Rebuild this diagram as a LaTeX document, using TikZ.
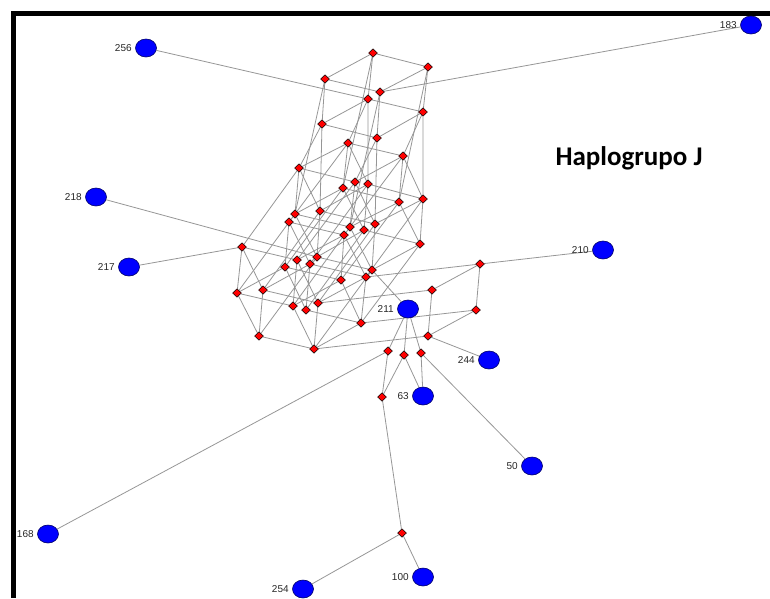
\documentclass[tikz,border=0pt]{standalone}
\usepackage{fontspec}
\setmainfont{Liberation Sans}
\newfontfamily\titlefont{Carlito}
\usepackage{tikz}
\usetikzlibrary{shapes.geometric}
\usetikzlibrary{backgrounds}
\definecolor{medred} {RGB} {255, 0, 0}
\definecolor{hapblue} {RGB} {0, 0, 255}
\definecolor{linkgray} {RGB} {150, 150, 150}
\tikzstyle{hapnet}=[
  x=1pt, y=-1pt, font=\fontsize{10}{11}\selectfont
]
\tikzstyle{mednode}=[
  diamond, draw=black, line width=0.5pt, fill=medred,
  inner sep=0pt, minimum width=9pt, minimum height=8.5pt
]
\tikzstyle{hapnode}=[
  ellipse, draw=black!60!blue, line width=0.6pt, fill=hapblue,
  inner sep=0pt, minimum width=21pt, minimum height=18pt
]
\tikzstyle{haplabel}=[
  text=black!85, label distance=0pt
]
\tikzstyle{hapedge}=[
  draw=linkgray, line width=0.8pt
]

\begin{document}
\begin{tikzpicture}[hapnet]
    \useasboundingbox (0,0) rectangle (770,598);
    % frame
    \fill [black] (11,11) rectangle (770,16);
    \fill [black] (11,11) rectangle (16,598);

    \node (title) at (629,158) {\titlefont\bfseries\fontsize{27}{30}\selectfont Haplogrupo J};

    % median vectors
    \node (m1) [mednode] at (373,53) {};
    \node (m2) [mednode] at (428,67) {};
    \node (m3) [mednode] at (325,79) {};
    \node (m4) [mednode] at (380,92) {};
    \node (m5) [mednode] at (368,99) {};
    \node (m6) [mednode] at (423,112) {};
    \node (m7) [mednode] at (322,124) {};
    \node (m8) [mednode] at (377,138) {};
    \node (m9) [mednode] at (348,143) {};
    \node (m10) [mednode] at (403,156) {};
    \node (m11) [mednode] at (299,168) {};
    \node (m12) [mednode] at (355,182) {};
    \node (m13) [mednode] at (368,184) {};
    \node (m14) [mednode] at (343,188) {};
    \node (m15) [mednode] at (399,202) {};
    \node (m16) [mednode] at (423,199) {};
    \node (m17) [mednode] at (295,214) {};
    \node (m18) [mednode] at (320,211) {};
    \node (m19) [mednode] at (289,222) {};
    \node (m20) [mednode] at (350,227) {};
    \node (m21) [mednode] at (375,224) {};
    \node (m22) [mednode] at (364,230) {};
    \node (m23) [mednode] at (344,235) {};
    \node (m24) [mednode] at (420,244) {};
    \node (m25) [mednode] at (242,247) {};
    \node (m26) [mednode] at (317,257) {};
    \node (m27) [mednode] at (297,260) {};
    \node (m28) [mednode] at (310,264) {};
    \node (m29) [mednode] at (285,267) {};
    \node (m30) [mednode] at (372,270) {};
    \node (m31) [mednode] at (341,280) {};
    \node (m32) [mednode] at (366,277) {};
    \node (m33) [mednode] at (432,290) {};
    \node (m34) [mednode] at (263,290) {};
    \node (m35) [mednode] at (237,293) {};
    \node (m36) [mednode] at (480,264) {};
    \node (m37) [mednode] at (293,306) {};
    \node (m38) [mednode] at (306,310) {};
    \node (m39) [mednode] at (318,303) {};
    \node (m40) [mednode] at (476,310) {};
    \node (m41) [mednode] at (361,323) {};
    \node (m42) [mednode] at (259,336) {};
    \node (m43) [mednode] at (428,336) {};
    \node (m44) [mednode] at (314,349) {};
    \node (m45) [mednode] at (388,351) {};
    \node (m46) [mednode] at (404,355) {};
    \node (m47) [mednode] at (421,353) {};
    \node (m48) [mednode] at (382,397) {};
    \node (m49) [mednode] at (402,533) {};

    % sampled haplotypes
    \node (h256) [hapnode, label={[haplabel]left:256}] at (146,48) {};
    \node (h183) [hapnode, label={[haplabel]left:183}] at (751,25) {};
    \node (h218) [hapnode, label={[haplabel]left:218}] at (96,197) {};
    \node (h217) [hapnode, label={[haplabel]left:217}] at (129,267) {};
    \node (h210) [hapnode, label={[haplabel]left:210}] at (603,250) {};
    \node (h211) [hapnode, label={[haplabel]left:211}] at (408,309) {};
    \node (h244) [hapnode, label={[haplabel]left:244}] at (489,360) {};
    \node (h63) [hapnode, label={[haplabel]left:63}] at (423,396) {};
    \node (h50) [hapnode, label={[haplabel]left:50}] at (532,466) {};
    \node (h168) [hapnode, label={[haplabel]left:168}] at (48,534) {};
    \node (h254) [hapnode, label={[haplabel]left:254}] at (303,589) {};
    \node (h100) [hapnode, label={[haplabel]left:100}] at (423,577) {};

    \begin{scope}[on background layer]
        % parallel links, one group per direction
        \draw [hapedge] (m1) -- (m2) (m3) -- (m4) (m5) -- (m6) (m7) -- (m8)
            (m9) -- (m10) (m11) -- (m12) (m13) -- (m16) (m14) -- (m15)
            (m17) -- (m20) (m18) -- (m21) (m19) -- (m23) (m22) -- (m24)
            (m25) -- (m27) (m26) -- (m30) (m28) -- (m32) (m29) -- (m31)
            (m34) -- (m39) (m35) -- (m37) (m38) -- (m41) (m42) -- (m44);
        \draw [hapedge] (m1) -- (m3) (m2) -- (m4) (m5) -- (m7) (m6) -- (m8)
            (m9) -- (m11) (m10) -- (m12) (m13) -- (m18) (m14) -- (m17)
            (m15) -- (m20) (m16) -- (m21) (m22) -- (m26) (m23) -- (m27)
            (m24) -- (m30) (m28) -- (m34) (m29) -- (m35) (m31) -- (m37)
            (m32) -- (m39) (m36) -- (m33) (m40) -- (m43) (m41) -- (m44);
        \draw [hapedge] (m1) -- (m5) (m2) -- (m6) (m3) -- (m7) (m4) -- (m8)
            (m9) -- (m14) (m10) -- (m15) (m11) -- (m17) (m12) -- (m20)
            (m13) -- (m22) (m16) -- (m24) (m18) -- (m26) (m19) -- (m29)
            (m21) -- (m30) (m23) -- (m31) (m25) -- (m35) (m27) -- (m37)
            (m28) -- (m38) (m32) -- (m41) (m34) -- (m42) (m39) -- (m44)
            (m33) -- (m43) (m36) -- (m40);
        \draw [hapedge] (m9) -- (m13) (m10) -- (m16) (m11) -- (m18) (m12) -- (m21)
            (m14) -- (m22) (m15) -- (m24) (m17) -- (m26) (m19) -- (m28)
            (m20) -- (m30) (m23) -- (m32) (m25) -- (m34) (m27) -- (m39)
            (m29) -- (m38) (m31) -- (m41) (m35) -- (m42) (m37) -- (m44);
        \draw [hapedge] (m41) -- (m24) (m37) -- (m20) (m35) -- (m17) (m42) -- (m26)
            (m44) -- (m30) (m34) -- (m18) (m39) -- (m21) (m38) -- (m22)
            (m29) -- (m14) (m27) -- (m12) (m25) -- (m11) (m28) -- (m13)
            (m31) -- (m15) (m32) -- (m16) (m23) -- (m10) (m19) -- (m9);
        \draw [hapedge] (m5) -- (m9) (m6) -- (m10) (m7) -- (m11) (m8) -- (m12);
        \draw [hapedge] (m5) -- (m13) (m6) -- (m16) (m7) -- (m18) (m8) -- (m21);
        \draw [hapedge] (m1) -- (m14) (m2) -- (m15) (m3) -- (m17) (m4) -- (m20);
        \draw [hapedge] (m32) -- (m36) (m39) -- (m33) (m41) -- (m40) (m44) -- (m43);

        % lower branch
        \draw [hapedge] (m45) -- (m48) (m46) -- (m48) (m48) -- (m49);

        % haplotype links
        \draw [hapedge] (h256) -- (m5);
        \draw [hapedge] (h183) -- (m4);
        \draw [hapedge] (h218) -- (m26);
        \draw [hapedge] (h217) -- (m25);
        \draw [hapedge] (h210) -- (m36);
        \draw [hapedge] (h211) -- (m30);
        \draw [hapedge] (h211) -- (m45);
        \draw [hapedge] (h211) -- (m46);
        \draw [hapedge] (h211) -- (m47);
        \draw [hapedge] (h244) -- (m43);
        \draw [hapedge] (h168) -- (m45);
        \draw [hapedge] (h63) -- (m46);
        \draw [hapedge] (h63) -- (m47);
        \draw [hapedge] (h50) -- (m47);
        \draw [hapedge] (h254) -- (m49);
        \draw [hapedge] (h100) -- (m49);
    \end{scope}
\end{tikzpicture}
\end{document}
